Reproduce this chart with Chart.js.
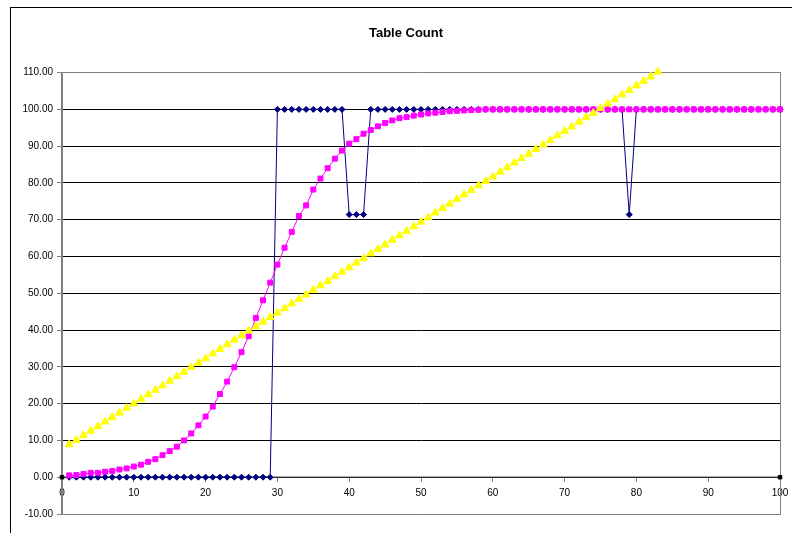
<!DOCTYPE html>
<html><head><meta charset="utf-8">
<script src="https://cdn.jsdelivr.net/npm/chart.js@4"></script>
<style>html,body{margin:0;padding:0;background:#fff;}canvas{display:block}</style>
</head><body>
<div style="width:792px;height:533px"><canvas id="c" width="792" height="533"></canvas></div>
<script>
const chartTitle = "Table Count";
const xValues = [1,2,3,4,5,6,7,8,9,10,11,12,13,14,15,16,17,18,19,20,21,22,23,24,25,26,27,28,29,30,31,32,33,34,35,36,37,38,39,40,41,42,43,44,45,46,47,48,49,50,51,52,53,54,55,56,57,58,59,60,61,62,63,64,65,66,67,68,69,70,71,72,73,74,75,76,77,78,79,80,81,82,83,84,85,86,87,88,89,90,91,92,93,94,95,96,97,98,99,100];
const blueValues = [0,0,0,0,0,0,0,0,0,0,0,0,0,0,0,0,0,0,0,0,0,0,0,0,0,0,0,0,0,
  100,100,100,100,100,100,100,100,100,100,
  71.4,71.4,71.4,
  100,100,100,100,100,100,100,100,100,100,100,100,100,100,100,100,100,100,100,100,100,100,100,100,100,100,100,100,100,100,100,100,100,100,100,100,
  71.4,
  100,100,100,100,100,100,100,100,100,100,100,100,100,100,100,100,100,100,100,100,100];
const magentaValues = [0.5,0.6,0.9,1.2,1.2,1.5,1.7,2.1,2.4,2.9,3.4,4.2,4.9,6.0,7.1,8.3,10.0,11.9,14.1,16.5,19.2,22.6,26.0,29.9,34.0,38.3,43.3,48.1,52.9,57.8,62.4,66.7,71.0,73.9,78.2,81.2,84.0,86.6,88.8,90.7,91.9,93.4,94.4,95.4,96.3,97.0,97.6,97.9,98.3,98.6,98.9,99.1,99.3,99.5,99.6,99.7,99.8,99.9,
  100,100,100,100,100,100,100,100,100,100,100,100,100,100,100,100,100,100,100,100,100,100,100,100,100,100,100,100,100,100,100,100,100,100,100,100,100,100,100,100,100,100];
const yellowValues = [8.9,10.1,11.4,12.6,13.8,15.1,16.3,17.5,18.8,20.0,21.2,22.5,23.7,24.9,26.2,27.4,28.6,29.9,31.1,32.3,33.6,34.8,36.1,37.3,38.5,39.8,41.0,42.2,43.5,44.7,45.9,47.2,48.4,49.6,50.9,52.1,53.3,54.6,55.8,57.0,58.3,59.5,60.8,62.0,63.2,64.5,65.7,66.9,68.2,69.4,70.6,71.9,73.1,74.3,75.6,76.8,78.0,79.3,80.5,81.7,83.0,84.2,85.5,86.7,87.9,89.2,90.4,91.6,92.9,94.1,95.3,96.6,97.8,99.0,100.3,101.5,102.7,104.0,105.2,106.5,107.7,108.9,110.2];
const baseX = [0, 100];
const baseY = [0, 0];
const yMin = -10, yMax = 110, yStep = 10;
const xMin = 0, xMax = 100, xStep = 10;

function pts(xs, ys){ return ys.map((v,i)=>({x:xs[i], y:v})); }

const frame = {
  id:'frame',
  beforeDraw(chart){
    const c = chart.ctx;
    c.save();
    c.fillStyle = '#fff';
    c.fillRect(0,0,chart.width,chart.height);
    c.strokeStyle = '#000';
    c.lineWidth = 1;
    c.strokeRect(10.5, 7.5, 1000, 1000);
    c.restore();
  }
};

const font = {family:"'Liberation Sans', Arial, sans-serif", size:10};

new Chart(document.getElementById('c'), {
  type:'scatter',
  data:{datasets:[
    {label:'Series3', data:pts(xValues, yellowValues), showLine:true, borderColor:'#FFFF00', backgroundColor:'#FFFF00', borderWidth:1, pointStyle:'triangle', pointRadius:4.5, pointBorderWidth:1, clip:false},
    {label:'Series2', data:pts(xValues, magentaValues), showLine:true, borderColor:'#FF00FF', backgroundColor:'#FF00FF', borderWidth:1, pointStyle:'rect', pointRadius:3.5, pointBorderWidth:1, clip:false},
    {label:'Series1', data:pts(xValues, blueValues), showLine:true, borderColor:'#000080', backgroundColor:'#000080', borderWidth:1, pointStyle:'rectRot', pointRadius:3, pointBorderWidth:1, clip:false},
    {label:'Series4', data:pts(baseX, baseY), showLine:true, borderColor:'#000', backgroundColor:'#000', borderWidth:1, pointStyle:'rect', pointRadius:2.5, pointBorderWidth:1, clip:false}
  ]},
  options:{
    responsive:false, animation:false, devicePixelRatio:1,
    layout:{padding:{left:10, right:-10, top:0, bottom:19}},
    plugins:{
      legend:{display:false},
      tooltip:{enabled:false},
      title:{display:true, text:chartTitle, color:'#000', font:{family:"'Liberation Sans', Arial, sans-serif", size:13, weight:'bold'}, padding:{top:26, bottom:31}}
    },
    scales:{
      x:{type:'linear', min:xMin, max:xMax, position:{y:0},
        ticks:{stepSize:xStep, color:'#000', font:font, padding:6, maxRotation:0, autoSkip:false},
        grid:{drawOnChartArea:false, tickLength:4, color:'#808080'},
        border:{display:true, color:'#808080', width:1},
        afterFit:s=>{ s.paddingRight = 0; s.paddingLeft = 0; }
      },
      y:{type:'linear', min:yMin, max:yMax,
        ticks:{stepSize:yStep, color:'#000', font:font, padding:4, callback:v=>Number(v).toFixed(2)},
        grid:{color:ctx=>(ctx.tick && (ctx.tick.value===yMax || ctx.tick.value===yMin)) ? '#808080' : '#000', tickColor:'#808080', tickLength:5, lineWidth:1},
        border:{color:'#808080', width:2},
        afterFit:s=>{ s.width = 52; }
      },
      y2:{type:'linear', position:'right', min:yMin, max:yMax,
        ticks:{display:false},
        grid:{drawOnChartArea:false, drawTicks:false},
        border:{display:true, color:'#808080', width:1},
        afterFit:s=>{ s.width = 22; }
      }
    }
  },
  plugins:[frame]
});
</script>
</body></html>
